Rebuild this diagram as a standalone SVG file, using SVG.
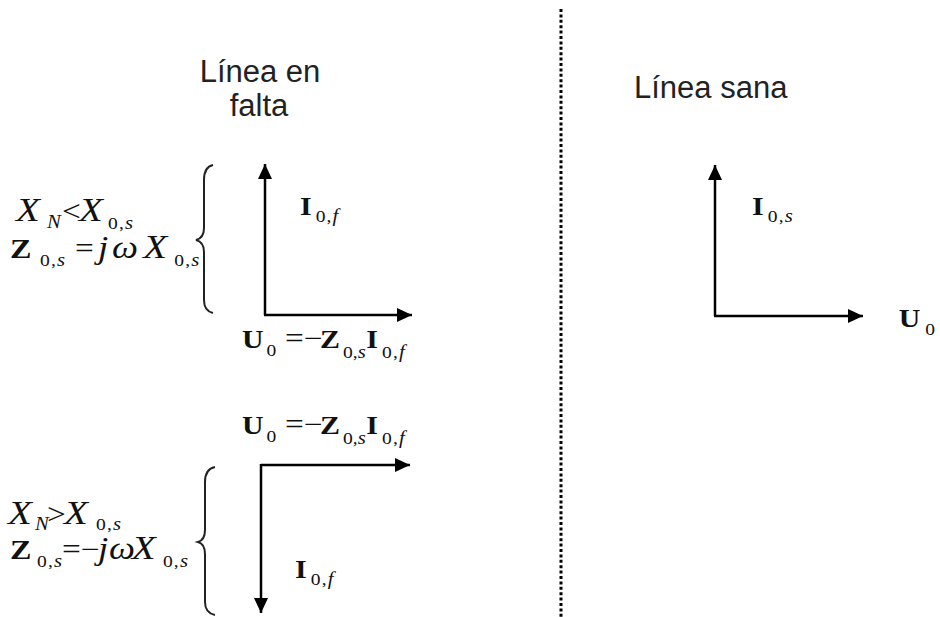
<svg xmlns="http://www.w3.org/2000/svg" width="940" height="617" viewBox="0 0 940 617">
<defs>
<style>
.t{font-family:"Liberation Sans",Arial,sans-serif;font-size:31px;fill:#222}
.m{font-family:"Liberation Serif","Times New Roman",serif;fill:#111}
.b{font-weight:bold;font-size:26px}
.bz{font-weight:bold;font-size:28px}
.i{font-style:italic;font-size:34px}
.w{font-style:italic;font-size:32px}
.o{font-size:29px}
.s{font-size:17px;letter-spacing:1px}
.s0{font-size:17px}
.si{font-size:18px;font-style:italic}
.ax{stroke:#000;stroke-width:2.5;fill:none}
.br{stroke:#222;stroke-width:2;fill:none}
</style>
<marker id="ah" viewBox="0 0 15 14" refX="15" refY="7" markerWidth="15" markerHeight="14" markerUnits="userSpaceOnUse" orient="auto">
<path d="M0,0 L15,7 L0,14 z" fill="#000"/>
</marker>
</defs>
<rect width="940" height="617" fill="#fff"/>

<g id="divider">
<line x1="561" y1="9" x2="561" y2="617" stroke="#000" stroke-width="3" stroke-dasharray="3 2.4"/>
</g>

<g id="title-falta">
<text class="t" x="260" y="82" text-anchor="middle">Línea en</text>
<text class="t" x="259" y="116" text-anchor="middle">falta</text>
</g>

<g id="title-sana">
<text class="t" x="634" y="98">Línea sana</text>
</g>

<g id="cond-top">
<text class="m" transform="scale(1.15,1)"><tspan class="i" x="13.9" y="221">X</tspan><tspan class="si" x="40.9" y="228">N</tspan><tspan class="o" x="53.9" y="221">&lt;</tspan><tspan class="i" x="68.7" y="221">X</tspan><tspan class="s" x="93.9" y="229">0,</tspan><tspan class="si" y="229">s</tspan></text>
<text class="m" transform="scale(1.15,1)"><tspan class="bz" x="8.7" y="258">Z</tspan><tspan class="s" x="34.8" y="266">0,</tspan><tspan class="si" y="266">s</tspan><tspan class="o" x="65.2" y="258">=</tspan><tspan class="w" x="85.2" y="258">j</tspan><tspan class="w" x="97.4" y="258">ω</tspan><tspan class="i" x="124.5" y="258">X</tspan><tspan class="s" x="151.5" y="266">0,</tspan><tspan class="si" y="266">s</tspan></text>
<path class="br" d="M213,165 Q204,167 204,180 V228 Q204,238 196,240 Q204,242 204,252 V300 Q204,311 213,313"/>
</g>

<g id="cond-bottom">
<text class="m" transform="scale(1.15,1)"><tspan class="i" x="7" y="524">X</tspan><tspan class="si" x="30.4" y="530">N</tspan><tspan class="o" x="40.9" y="524">&gt;</tspan><tspan class="i" x="55.7" y="524">X</tspan><tspan class="s" x="83.5" y="530">0,</tspan><tspan class="si" y="530">s</tspan></text>
<text class="m" transform="scale(1.15,1)"><tspan class="bz" x="8.7" y="559">Z</tspan><tspan class="s" x="32.2" y="567">0,</tspan><tspan class="si" y="567">s</tspan><tspan class="o" x="53.9" y="559">=−</tspan><tspan class="w" x="85.2" y="559">j</tspan><tspan class="w" x="94.8" y="559">ω</tspan><tspan class="i" x="114.5" y="559">X</tspan><tspan class="s" x="141.7" y="567">0,</tspan><tspan class="si" y="567">s</tspan></text>
<path class="br" d="M215,467 Q205,469 205,482 V530 Q205,540 198,542 Q205,544 205,554 V602 Q205,613 215,615"/>
</g>

<g id="label-I0f-top">
<text class="m" transform="scale(1.15,1)"><tspan class="b" x="260.9" y="215">I</tspan><tspan class="s" x="274.5" y="222">0,</tspan><tspan class="si" y="222">f</tspan></text>
</g>

<g id="label-U0-top">
<text class="m" transform="scale(1.15,1)"><tspan class="b" x="210.4" y="348">U</tspan><tspan class="s0" x="231.8" y="356">0</tspan><tspan class="o" x="247.8" y="348">=−</tspan><tspan class="b" x="278.3" y="348">Z</tspan><tspan class="s0" x="298.3" y="358">0,</tspan><tspan class="si" y="358">s</tspan><tspan class="b" x="318.5" y="348">I</tspan><tspan class="s" x="332.2" y="358">0,</tspan><tspan class="si" y="358">f</tspan></text>
</g>

<g id="label-U0-bottom">
<text class="m" transform="scale(1.15,1)"><tspan class="b" x="210.4" y="434">U</tspan><tspan class="s0" x="231.8" y="442">0</tspan><tspan class="o" x="247.8" y="434">=−</tspan><tspan class="b" x="278.3" y="434">Z</tspan><tspan class="s0" x="298.3" y="444">0,</tspan><tspan class="si" y="444">s</tspan><tspan class="b" x="318.5" y="434">I</tspan><tspan class="s" x="332.2" y="444">0,</tspan><tspan class="si" y="444">f</tspan></text>
</g>

<g id="label-I0f-bottom">
<text class="m" transform="scale(1.15,1)"><tspan class="b" x="256.5" y="578">I</tspan><tspan class="s" x="270.2" y="585">0,</tspan><tspan class="si" y="585">f</tspan></text>
</g>

<g id="label-I0s">
<text class="m" transform="scale(1.15,1)"><tspan class="b" x="653.9" y="215">I</tspan><tspan class="s" x="667.6" y="222">0,</tspan><tspan class="si" y="222">s</tspan></text>
</g>

<g id="label-U0-right">
<text class="m" transform="scale(1.15,1)"><tspan class="b" x="781.5" y="327">U</tspan><tspan class="s0" x="804.5" y="335">0</tspan></text>
</g>

<g id="connectors">
<path class="ax" d="M265,315 V164" marker-end="url(#ah)"/>
<path class="ax" d="M264,315 H412" marker-end="url(#ah)"/>
<path class="ax" d="M261,465 H410" marker-end="url(#ah)"/>
<path class="ax" d="M261,464 V613" marker-end="url(#ah)"/>
<path class="ax" d="M715,316 V165" marker-end="url(#ah)"/>
<path class="ax" d="M714,316 H863" marker-end="url(#ah)"/>
</g>
</svg>
